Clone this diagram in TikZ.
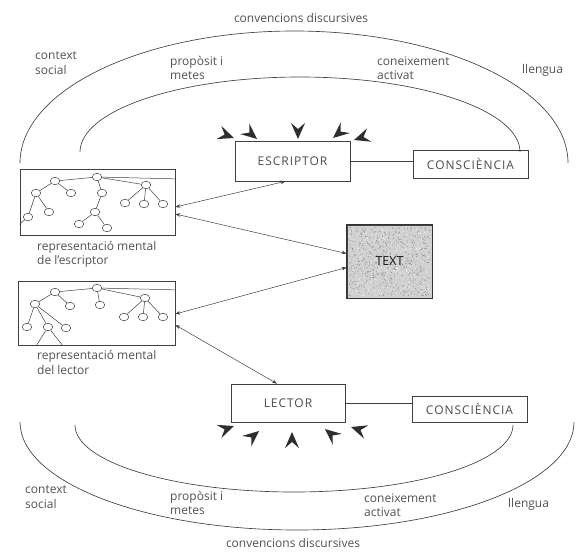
\documentclass[tikz,border=0pt]{standalone}
\usepackage{fontspec}
\setmainfont{Open Sans}
\newfontfamily\capsfont[LetterSpace=8]{Open Sans}
\usetikzlibrary{arrows.meta,shapes.geometric}

% a free-standing barbed arrow tip: tip point (x,y), direction angle
\newcommand\barbtip[3]{%
  \fill[black!82, shift={(#1,#2)}, rotate=#3]
    (0pt,0pt) -- (-16pt,7pt) -- (-10pt,0pt) -- (-16pt,-7pt) -- cycle;}

\begin{document}
\begin{tikzpicture}[x=1pt,y=-1pt,
  ink/.style={draw=black!75, line width=0.65pt},
  lbl/.style={text=black!68, font=\fontsize{12}{14.5}\selectfont, align=left, inner sep=0pt},
  capbox/.style={draw=black!75, line width=0.7pt, text=black!70,
    font=\capsfont\fontsize{12}{14}\selectfont, inner sep=0pt},
  mindbox/.style={draw=black!75, line width=0.7pt, inner sep=0pt},
  tn/.style={ellipse, draw=black!75, line width=0.5pt, inner sep=0pt,
    minimum width=9.5pt, minimum height=7.5pt},
  tedge/.style={draw=black!75, line width=0.5pt},
  link/.style={draw=black!75, line width=0.5pt,
    {Stealth[length=5pt,width=3.6pt]}-{Stealth[length=5pt,width=3.6pt]}}]

\useasboundingbox[fill=white] (0,0) rectangle (577,559);

% ---------- surrounding arcs ----------
\draw[ink] (20,163) arc[start angle=180, end angle=0, x radius=274pt, y radius=132pt];
\draw[ink] (80,152) arc[start angle=180, end angle=0, x radius=220pt, y radius=75pt];
\draw[ink] (20,422) arc[start angle=180, end angle=360, x radius=277pt, y radius=108pt];
\draw[ink] (75,425) arc[start angle=180, end angle=360, x radius=219pt, y radius=67pt];

% ---------- arc labels ----------
\node[lbl] (convT) at (301,18) {convencions discursives};
\node[lbl, anchor=west] (ctxT) at (35,63) {context\\social};
\node[lbl, anchor=west] (propT) at (170,68) {propòsit i\\metes};
\node[lbl, anchor=west] (conT) at (377,68) {coneixement\\activat};
\node[lbl, anchor=west] (llT) at (522,70) {llengua};

\node[lbl] (convB) at (293,543) {convencions discursives};
\node[lbl, anchor=west] (ctxB) at (25,497) {context\\social};
\node[lbl, anchor=west] (propB) at (170,503) {propòsit i\\metes};
\node[lbl, anchor=west] (conB) at (364,505) {coneixement\\activat};
\node[lbl, anchor=west] (llB) at (508,504) {llengua};

% ---------- main boxes ----------
\node[capbox, minimum width=115pt, minimum height=40pt] (esc) at (292.5,161) {ESCRIPTOR};
\node[capbox, minimum width=115pt, minimum height=28pt] (con1) at (470.5,164) {CONSCIÈNCIA};
\node[capbox, minimum width=114pt, minimum height=38pt] (lec) at (288,403) {LECTOR};
\node[capbox, minimum width=115pt, minimum height=26pt] (con2) at (469.5,409) {CONSCIÈNCIA};

\draw[ink, line width=0.55pt] (esc.east) -- (esc.east -| con1.west);
\draw[ink, line width=0.55pt] (lec.east) -- (lec.east -| con2.west);

% ---------- the text ----------
\node[mindbox, minimum width=85pt, minimum height=73pt, fill=black!18] (txt) at (389.5,261.5) {};
\begin{scope}
  \pgfmathsetseed{11}
  \foreach \k in {1,...,650}{
    \fill[black!50] ({349+81*rnd},{227+69*rnd}) circle (0.45pt);}
  \foreach \k in {1,...,400}{
    \fill[white] ({349+81*rnd},{227+69*rnd}) circle (0.45pt);}
\end{scope}
\draw[black!80, line width=0.7pt] (txt.north west) rectangle (txt.south east);
\node[text=black!90, font=\fontsize{12.5}{14}\selectfont, inner sep=0pt] at (txt) {TEXT};

% ---------- mental representation of the writer ----------
\node[mindbox, minimum width=155pt, minimum height=66pt] (rep1) at (97.5,202) {};
\begin{scope}
  \clip (rep1.north west) rectangle (rep1.south east);
  \node[tn] (aR) at (97,177) {};
  \node[tn] (aA) at (55,181) {};
  \node[tn] (aB) at (36,193) {};
  \node[tn] (aC) at (71,193) {};
  \node[tn] (aD) at (28,217) {};
  \node[tn] (aE) at (49,212) {};
  \node[tn] (aF) at (102,193) {};
  \node[tn] (aG) at (95,212) {};
  \node[tn] (aH) at (79,224) {};
  \node[tn] (aI) at (107,228) {};
  \node[tn] (aJ) at (146,185) {};
  \node[tn] (aK) at (125,203) {};
  \node[tn] (aL) at (144,204) {};
  \node[tn] (aM) at (163,204) {};
  \coordinate (aOutR) at (182,179);
  \coordinate (aOutL) at (12,231);
  \draw[tedge] (aR) -- (aA);
  \draw[tedge] (aR) -- (aF);
  \draw[tedge] (aR) -- (aJ);
  \draw[tedge] (aR) -- (aOutR);
  \draw[tedge] (aA) -- (aB);
  \draw[tedge] (aA) -- (aC);
  \draw[tedge] (aB) -- (aD);
  \draw[tedge] (aB) -- (aE);
  \draw[tedge] (aD) -- (aOutL);
  \draw[tedge] (aF) -- (aG);
  \draw[tedge] (aG) -- (aH);
  \draw[tedge] (aG) -- (aI);
  \draw[tedge] (aJ) -- (aK);
  \draw[tedge] (aJ) -- (aL);
  \draw[tedge] (aJ) -- (aM);
\end{scope}
\node[lbl, anchor=west] (rep1lbl) at (37,254.5) {representació mental\\de l'escriptor};

% ---------- mental representation of the reader ----------
\node[mindbox, minimum width=157pt, minimum height=64pt] (rep2) at (96.5,313) {};
\begin{scope}
  \clip (rep2.north west) rectangle (rep2.south east);
  \node[tn] (bR) at (97,288) {};
  \node[tn] (bA) at (55,292) {};
  \node[tn] (bB) at (35,304) {};
  \node[tn] (bC) at (70,306) {};
  \node[tn] (bD) at (27,327) {};
  \node[tn] (bE) at (48,327) {};
  \node[tn] (bF) at (66,328) {};
  \node[tn] (bG) at (100,305) {};
  \node[tn] (bJ) at (145,298) {};
  \node[tn] (bK) at (124,317) {};
  \node[tn] (bL) at (143,317) {};
  \node[tn] (bM) at (163,317) {};
  \coordinate (bOutR) at (182,290);
  \coordinate (bOutL) at (33,351);
  \coordinate (bOutM) at (67,351);
  \draw[tedge] (bR) -- (bA);
  \draw[tedge] (bR) -- (bG);
  \draw[tedge] (bR) -- (bJ);
  \draw[tedge] (bR) -- (bOutR);
  \draw[tedge] (bA) -- (bB);
  \draw[tedge] (bA) -- (bC);
  \draw[tedge] (bB) -- (bD);
  \draw[tedge] (bB) -- (bE);
  \draw[tedge] (bB) -- (bF);
  \draw[tedge] (bE) -- (bOutL);
  \draw[tedge] (bE) -- (bOutM);
  \draw[tedge] (bJ) -- (bK);
  \draw[tedge] (bJ) -- (bL);
  \draw[tedge] (bJ) -- (bM);
\end{scope}
\node[lbl, anchor=west] (rep2lbl) at (37,362.5) {representació mental\\del lector};

% ---------- links ----------
\draw[link] ([yshift=-5pt]rep1.east) -- ([xshift=-7pt]esc.south);
\draw[link] ([yshift=-12pt]rep1.east) -- ([yshift=8pt]txt.west);
\draw[link] ([yshift=-6pt]txt.west) -- ([yshift=-1pt]rep2.east);
\draw[link] ([yshift=-12pt]rep2.east) -- ([xshift=-11pt]lec.north);

% ---------- influences on writer and reader ----------
\barbtip{234}{138}{-20}
\barbtip{257}{139}{-40}
\barbtip{298}{139}{-90}
\barbtip{333}{138}{-140}
\barbtip{354}{140}{-162}

\barbtip{234}{426}{20}
\barbtip{259}{431}{40}
\barbtip{292}{432}{90}
\barbtip{325}{429}{140}
\barbtip{351}{427}{162}

\end{tikzpicture}
\end{document}
